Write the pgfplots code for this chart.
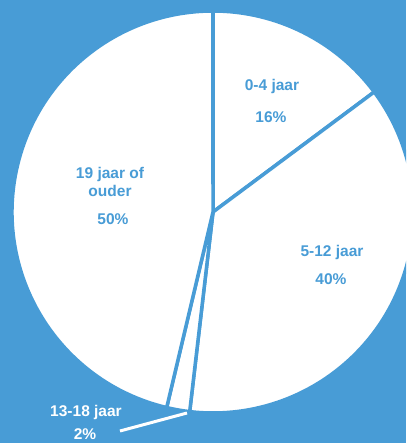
\documentclass[border=0pt]{standalone}
\usepackage{pgfplots}
\pgfplotsset{compat=1.18}
\usepackage{pgfplotstable}
\usepackage{fontspec}
\setmainfont{Liberation Sans}

\definecolor{bgblue}{HTML}{489CD6}
\tikzset{lbl/.style={font=\bfseries\fontsize{15.5}{18}\selectfont, align=center, inner sep=0pt}}

% share per age group (percent as printed)
\pgfplotstableread{
group value
0-4   16
5-12  40
13-18 2
19+   50
}\agedata

\begin{document}
\begin{tikzpicture}
\useasboundingbox (0,0) rectangle (406pt,443pt);
\clip (0,0) rectangle (406pt,443pt);
\begin{axis}[
    x=1pt, y=1pt,
    xmin=0, xmax=406, ymin=0, ymax=443,
    scale only axis,
    hide axis,
    clip=true,
]
\fill[bgblue] (axis cs:0,0) rectangle (axis cs:406,443);

\pgfplotsextra{
    \gdef\total{0}
    \pgfplotstableforeachcolumnelement{value}\of\agedata\as\v{%
        \pgfmathparse{\total+\v}\xdef\total{\pgfmathresult}}
    \gdef\startang{90}
    \pgfplotstableforeachcolumnelement{value}\of\agedata\as\v{%
        \pgfmathsetmacro\endang{\startang-\v/\total*360}
        \filldraw[white, draw=bgblue, line width=3.5pt, line join=round]
            (axis cs:213,231) -- ++(\startang:201pt)
            arc[start angle=\startang, end angle=\endang, radius=201pt] -- cycle;
        \xdef\startang{\endang}}
}

% labels inside the slices
\node[lbl, text=bgblue] at (axis cs:272,356) {0-4 jaar};
\node[lbl, text=bgblue] at (axis cs:271,326) {16\%};
\node[lbl, text=bgblue] at (axis cs:332,191) {5-12 jaar};
\node[lbl, text=bgblue] at (axis cs:331,164) {40\%};
\node[lbl, text=bgblue] at (axis cs:110,261) {19 jaar of\\ouder};
\node[lbl, text=bgblue] at (axis cs:113,224) {50\%};

% small slice, label outside
\draw[white, line width=3pt] (axis cs:187,30) -- (axis cs:120,12);
\node[lbl, text=white] at (axis cs:86,31) {13-18 jaar};
\node[lbl, text=white] at (axis cs:85,8.5) {2\%};
\end{axis}
\end{tikzpicture}
\end{document}
